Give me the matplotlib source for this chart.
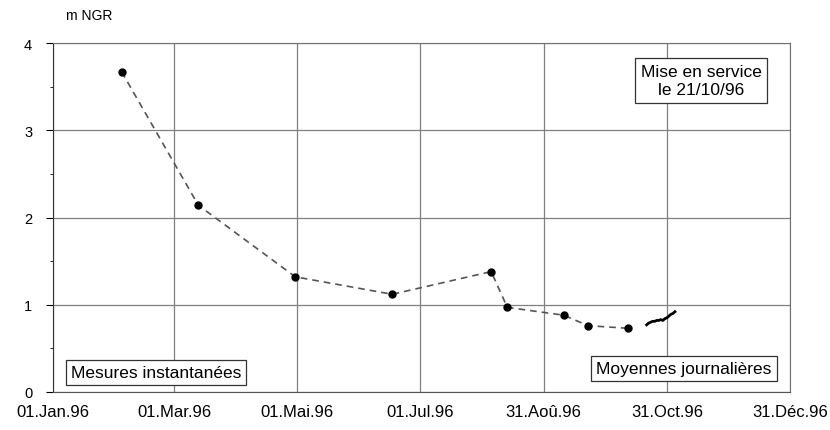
import datetime as dt
import matplotlib
matplotlib.use("Agg")
import matplotlib.pyplot as plt
from matplotlib.ticker import MultipleLocator

plt.rcParams['font.family'] = ['Liberation Sans', 'DejaVu Sans']

# mesures instantanées (niveau en m NGR)
mes_dates = ["1996-02-04", "1996-03-13", "1996-04-30", "1996-06-17", "1996-08-05",
             "1996-08-13", "1996-09-10", "1996-09-22", "1996-10-12"]
mes_niveau = [3.67, 2.14, 1.32, 1.12, 1.38, 0.97, 0.88, 0.76, 0.73]

# moyennes journalières après la mise en service
moy_dates = ["1996-10-21", "1996-10-22", "1996-10-23", "1996-10-24", "1996-10-25",
             "1996-10-26", "1996-10-27", "1996-10-28", "1996-10-29", "1996-10-30",
             "1996-10-31", "1996-11-01", "1996-11-02", "1996-11-03", "1996-11-04"]
moy_niveau = [0.77, 0.79, 0.80, 0.81, 0.81, 0.82, 0.82, 0.83, 0.82, 0.84,
              0.85, 0.87, 0.89, 0.90, 0.92]

tick_dates = ["1996-01-01", "1996-03-01", "1996-05-01", "1996-07-01",
              "1996-08-31", "1996-10-31", "1996-12-31"]
tick_labels = ["01.Jan.96", "01.Mar.96", "01.Mai.96", "01.Jul.96",
               "31.Aoû.96", "31.Oct.96", "31.Déc.96"]

def to_dt(lst):
    return [dt.datetime.strptime(s, "%Y-%m-%d") for s in lst]

W, H = 830, 431
fig = plt.figure(figsize=(W / 100, H / 100), dpi=100)
ax = fig.add_axes([53 / W, 1 - 393 / H, (790 - 53) / W, (393 - 44) / H])

ax.plot(to_dt(mes_dates), mes_niveau, linestyle=(0, (4, 3)), color="#555555",
        linewidth=1.2, marker="o", markersize=5, markerfacecolor="black",
        markeredgecolor="black", zorder=3)
ax.plot(to_dt(moy_dates), moy_niveau, color="black", linewidth=2, zorder=3)

ticks = to_dt(tick_dates)
ax.set_xlim(ticks[0], ticks[-1])
ax.set_xticks(ticks)
ax.set_xticklabels(tick_labels, fontsize=12)
ax.set_ylim(0, 4)
ax.yaxis.set_major_locator(MultipleLocator(1))
ax.yaxis.set_minor_locator(MultipleLocator(0.5))
ax.tick_params(axis="y", labelsize=10.5, direction="out", length=5, width=0.8, pad=10)
ax.tick_params(axis="y", which="minor", direction="out", length=2, width=0.6)
ax.tick_params(axis="x", length=0, pad=9)

ax.grid(True, which="major", color="#808080", linewidth=0.9)
for side in ["top", "right"]:
    ax.spines[side].set_color("#707070")
ax.spines["left"].set_color("#333333")
ax.spines["bottom"].set_color("#555555")

fig.text(66 / W, 1 - 16 / H, "m NGR", fontsize=10, va="center", ha="left")

box = dict(boxstyle="square,pad=0.3", facecolor="white", edgecolor="#333333", linewidth=0.9)
fig.text(701 / W, 1 - 81.5 / H, "Mise en service\nle 21/10/96",
         ha="center", va="center", fontsize=12.5, linespacing=1.3, bbox=box, zorder=4)
fig.text(156 / W, 1 - 373.5 / H, "Mesures instantanées",
         ha="center", va="center", fontsize=12.5, bbox=box, zorder=4)
fig.text(684 / W, 1 - 369.5 / H, "Moyennes journalières",
         ha="center", va="center", fontsize=12.5, bbox=box, zorder=4)

fig.savefig("out.png", dpi=100)
